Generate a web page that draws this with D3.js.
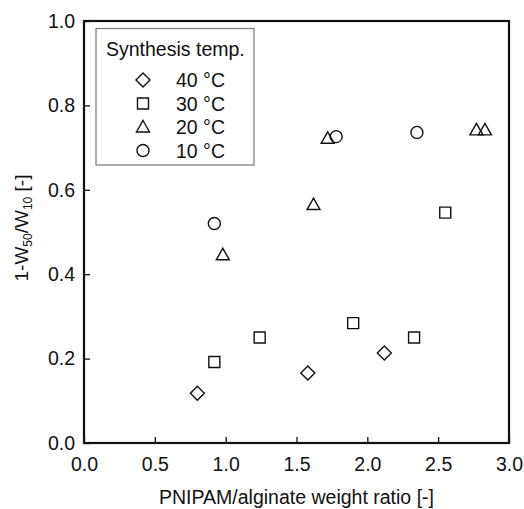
<!DOCTYPE html>
<html>
<head>
<meta charset="utf-8">
<script src="https://cdn.jsdelivr.net/npm/d3@7"></script>
<style>
  body { margin: 0; background: #fff; }
  text { font-family: "Liberation Sans", Arial, sans-serif; fill: #111; }
</style>
</head>
<body>
<div id="chart"></div>
<script>
// data
const seriesNames = ["40 °C", "30 °C", "20 °C", "10 °C"];
const seriesSymbols = ["diamond", "square", "triangle", "circle"];
const ratio40 = [0.80, 1.58, 2.12];
const value40 = [0.118, 0.166, 0.213];
const ratio30 = [0.92, 1.24, 1.90, 2.33, 2.55];
const value30 = [0.192, 0.250, 0.284, 0.250, 0.546];
const ratio20 = [0.98, 1.62, 1.72, 2.77, 2.83];
const value20 = [0.446, 0.565, 0.722, 0.742, 0.742];
const ratio10 = [0.92, 1.78, 2.35];
const value10 = [0.520, 0.726, 0.736];
const xTicks = [0, 0.5, 1.0, 1.5, 2.0, 2.5, 3.0];
const yTicks = [0, 0.2, 0.4, 0.6, 0.8, 1.0];

const width = 524, height = 509;
const margins = { top: 21, right: 15, bottom: 66, left: 84 };

const svg = d3.select("#chart").append("svg")
  .attr("width", width)
  .attr("height", height);

const x = d3.scaleLinear().domain([0, 3]).range([margins.left, width - margins.right]);
const y = d3.scaleLinear().domain([0, 1]).range([height - margins.bottom, margins.top]);

// axes with inward ticks
const xAxis = svg.append("g")
  .attr("transform", `translate(0,${height - margins.bottom})`)
  .call(d3.axisBottom(x).tickValues(xTicks).tickFormat(d3.format(".1f")).tickSizeInner(-6).tickSizeOuter(0).tickPadding(11));
const yAxis = svg.append("g")
  .attr("transform", `translate(${margins.left},0)`)
  .call(d3.axisLeft(y).tickValues(yTicks).tickFormat(d3.format(".1f")).tickSizeInner(-6).tickSizeOuter(0).tickPadding(9));

[xAxis, yAxis].forEach(g => {
  g.select(".domain").remove();
  g.selectAll(".tick line").attr("stroke", "#111").attr("stroke-width", 1.3);
  g.selectAll(".tick text").attr("font-size", 19.5).attr("fill", "#111")
    .style("font-family", "'Liberation Sans', Arial, sans-serif");
});
xAxis.selectAll(".tick text").attr("dy", "0.85em");

// frame
svg.append("rect")
  .attr("x", x(0)).attr("y", y(1))
  .attr("width", x(3) - x(0)).attr("height", y(0) - y(1))
  .attr("fill", "none").attr("stroke", "#111").attr("stroke-width", 2.2);

// axis titles
svg.append("text")
  .attr("x", (x(0) + x(3)) / 2).attr("y", 504)
  .attr("text-anchor", "middle").attr("font-size", 19.5)
  .text("PNIPAM/alginate weight ratio [-]");

const yLab = svg.append("text")
  .attr("transform", `translate(28,${(y(0) + y(1)) / 2 - 4}) rotate(-90)`)
  .attr("text-anchor", "middle").attr("font-size", 19);
yLab.append("tspan").text("1-W");
yLab.append("tspan").attr("font-size", 12).attr("dy", 4).text("50");
yLab.append("tspan").attr("dy", -4).text("/W");
yLab.append("tspan").attr("font-size", 12).attr("dy", 4).text("10");
yLab.append("tspan").attr("dy", -4).text(" [-]");

// marker shapes
const circ = d3.path();
circ.arc(0, 0, 6, 0, 2 * Math.PI);
const symbolPath = {
  diamond: "M0,-7L7,0L0,7L-7,0Z",
  square: "M-5.5,-5.5H5.5V5.5H-5.5Z",
  triangle: "M0,-6.5L6.5,5L-6.5,5Z",
  circle: circ.toString()
};

const series = [
  { xs: ratio40, ys: value40 },
  { xs: ratio30, ys: value30 },
  { xs: ratio20, ys: value20 },
  { xs: ratio10, ys: value10 }
];

series.forEach((s, i) => {
  svg.append("g")
    .selectAll("path")
    .data(s.xs.map((v, j) => ({ r: v, v: s.ys[j] })))
    .enter()
    .append("path")
    .attr("d", symbolPath[seriesSymbols[i]])
    .attr("transform", d => `translate(${x(d.r)},${y(d.v)})`)
    .attr("fill", "none")
    .attr("stroke", "#111")
    .attr("stroke-width", 1.4);
});

// legend
const legend = svg.append("g");
legend.append("rect")
  .attr("x", 96).attr("y", 28.5).attr("width", 158).attr("height", 136.5)
  .attr("fill", "#fff").attr("stroke", "#777").attr("stroke-width", 1.2);
legend.append("text")
  .attr("x", 106).attr("y", 56).attr("font-size", 19.5)
  .text("Synthesis temp.");
seriesNames.forEach((name, i) => {
  const cy = 80 + i * 23.5;
  legend.append("path")
    .attr("d", symbolPath[seriesSymbols[i]])
    .attr("transform", `translate(143,${cy})`)
    .attr("fill", "none").attr("stroke", "#111").attr("stroke-width", 1.4);
  legend.append("text")
    .attr("x", 176).attr("y", cy + 7).attr("font-size", 19.5)
    .text(name);
});
</script>
</body>
</html>
